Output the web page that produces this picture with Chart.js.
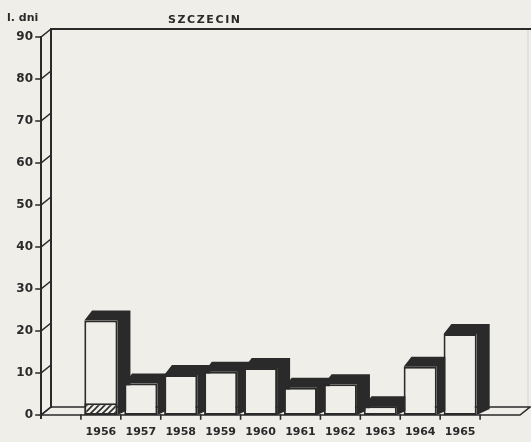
<!DOCTYPE html>
<html>
<head>
<meta charset="utf-8">
<script src="https://cdn.jsdelivr.net/npm/chart.js@4.4.1/dist/chart.umd.min.js"></script>
<style>
  html, body { margin: 0; padding: 0; background: #efeee8; }
  #wrap { width: 531px; height: 442px; }
</style>
</head>
<body>
<div id="wrap"><canvas id="c" width="531" height="442"></canvas></div>
<script>
// ---- data ----
const categories = ['', '1956', '1957', '1958', '1959', '1960', '1961', '1962', '1963', '1964', '1965', ''];
const daysTotal   = [null, 22.5, 7.5, 9.5, 10.3, 11.2, 6.5, 7.3, 2.1, 11.5, 19.3, null];
const daysHatched = [null, 2.8, null, null, null, null, null, null, null, null, null, null];
const yTickValues = [0, 10, 20, 30, 40, 50, 60, 70, 80, 90];
const chartTitle = 'SZCZECIN';
const yAxisTitle = 'l. dni';

// ---- styling ----
const PAPER = '#efeee8';
const INK = '#2a2a2a';
const BAR_DX = 13, BAR_DY = 10;   // bar depth
const AX_DX = 10, AX_DY = 8;      // axis / wall depth

function makeHatch() {
  const p = document.createElement('canvas');
  p.width = 6; p.height = 6;
  const g = p.getContext('2d');
  g.fillStyle = PAPER; g.fillRect(0, 0, 6, 6);
  g.strokeStyle = INK; g.lineWidth = 1.6;
  g.beginPath();
  g.moveTo(0, 6); g.lineTo(6, 0);
  g.moveTo(-3, 3); g.lineTo(3, -3);
  g.moveTo(3, 9); g.lineTo(9, 3);
  g.stroke();
  return g.createPattern(p, 'repeat');
}

const deco = {
  id: 'deco',
  beforeDraw(chart) {
    const ctx = chart.ctx;
    ctx.save();
    ctx.fillStyle = PAPER;
    ctx.fillRect(0, 0, chart.width, chart.height);
    ctx.restore();
  },
  beforeDatasetsDraw(chart) {
    const ctx = chart.ctx;
    const a = chart.chartArea;
    const ys = chart.scales.y;
    const y0 = ys.getPixelForValue(0);
    const yTop = ys.getPixelForValue(90);
    ctx.save();
    ctx.lineCap = 'square';
    // faint right wall edge
    ctx.strokeStyle = '#d6d5cf'; ctx.lineWidth = 1;
    ctx.beginPath(); ctx.moveTo(a.right + 8, yTop - AX_DY); ctx.lineTo(a.right + 8, y0 - AX_DY); ctx.stroke();
    // floor
    ctx.fillStyle = PAPER; ctx.strokeStyle = INK; ctx.lineWidth = 1.6;
    ctx.beginPath();
    ctx.moveTo(a.left, y0);
    ctx.lineTo(a.left + AX_DX, y0 - AX_DY);
    ctx.lineTo(a.right + AX_DX, y0 - AX_DY);
    ctx.lineTo(a.right, y0);
    ctx.closePath();
    ctx.fill(); ctx.stroke();
    // back wall: left vertical + top line
    ctx.lineWidth = 2;
    ctx.beginPath();
    ctx.moveTo(a.left + AX_DX, y0 - AX_DY);
    ctx.lineTo(a.left + AX_DX, yTop - AX_DY);
    ctx.lineTo(chart.width, yTop - AX_DY);
    ctx.stroke();
    // front axis
    ctx.beginPath();
    ctx.moveTo(a.left, yTop);
    ctx.lineTo(a.left, y0 + 3);
    ctx.stroke();
    // ticks + diagonals
    ctx.lineWidth = 1.6;
    yTickValues.forEach(v => {
      const y = ys.getPixelForValue(v);
      ctx.beginPath();
      ctx.moveTo(a.left - 5, y);
      ctx.lineTo(a.left, y);
      ctx.lineTo(a.left + AX_DX, y - AX_DY);
      ctx.stroke();
    });
    // x tick marks at category boundaries
    const xs = chart.scales.x;
    for (let i = 1; i < categories.length; i++) {
      const x = (xs.getPixelForValue(i - 1) + xs.getPixelForValue(i)) / 2;
      ctx.beginPath(); ctx.moveTo(x, y0); ctx.lineTo(x, y0 + 4); ctx.stroke();
    }
    // 3D dark top + side of each bar
    const meta = chart.getDatasetMeta(0);
    ctx.fillStyle = INK;
    meta.data.forEach((el, i) => {
      if (daysTotal[i] == null) return;
      const p = el.getProps(['x', 'y', 'base', 'width'], true);
      const l = p.x - p.width / 2, r = p.x + p.width / 2;
      ctx.beginPath();
      ctx.moveTo(l, p.y);
      ctx.lineTo(l + BAR_DX * 0.6, p.y - BAR_DY);
      ctx.lineTo(r + BAR_DX, p.y - BAR_DY);
      ctx.lineTo(r + BAR_DX, p.base - BAR_DY * 0.6);
      ctx.lineTo(r, p.base);
      ctx.lineTo(r, p.y);
      ctx.closePath();
      ctx.fill();
    });
    ctx.restore();
  },
  afterDraw(chart) {
    const ctx = chart.ctx;
    ctx.save();
    ctx.fillStyle = INK;
    ctx.textBaseline = 'alphabetic';
    ctx.font = 'bold 11px "DejaVu Sans"';
    ctx.letterSpacing = '1.6px';
    ctx.textAlign = 'left';
    ctx.fillText(chartTitle, 168, 23);
    ctx.letterSpacing = '0px';
    ctx.fillText(yAxisTitle, 7, 21);
    ctx.restore();
  }
};

new Chart(document.getElementById('c'), {
  type: 'bar',
  data: {
    labels: categories,
    datasets: [
      {
        label: 'liczba dni',
        data: daysTotal,
        backgroundColor: PAPER,
        borderColor: INK,
        borderWidth: 2,
        borderSkipped: false,
        grouped: false,
        order: 1
      },
      {
        label: 'część',
        data: daysHatched,
        backgroundColor: makeHatch(),
        borderColor: INK,
        borderWidth: 2,
        borderSkipped: false,
        grouped: false,
        order: 0
      }
    ]
  },
  options: {
    responsive: false,
    animation: false,
    devicePixelRatio: 1,
    layout: { padding: { top: 37, right: 11, left: 0, bottom: 0 } },
    plugins: { legend: { display: false }, tooltip: { enabled: false }, title: { display: false } },
    datasets: { bar: { categoryPercentage: 1, barPercentage: 0.83 } },
    scales: {
      x: {
        grid: { display: false, drawTicks: false },
        border: { display: false },
        ticks: {
          autoSkip: false, maxRotation: 0, minRotation: 0, padding: 11,
          color: INK, font: { family: 'DejaVu Sans', weight: 'bold', size: 11 }
        },
        afterFit(s) { s.height = 27; }
      },
      y: {
        min: 0, max: 90,
        grid: { display: false, drawTicks: false },
        border: { display: false },
        ticks: {
          stepSize: 10, padding: 8, color: INK,
          font: { family: 'DejaVu Sans', weight: 'bold', size: 12 }
        },
        afterFit(s) { s.width = 41; }
      }
    }
  },
  plugins: [deco]
});
</script>
</body>
</html>
